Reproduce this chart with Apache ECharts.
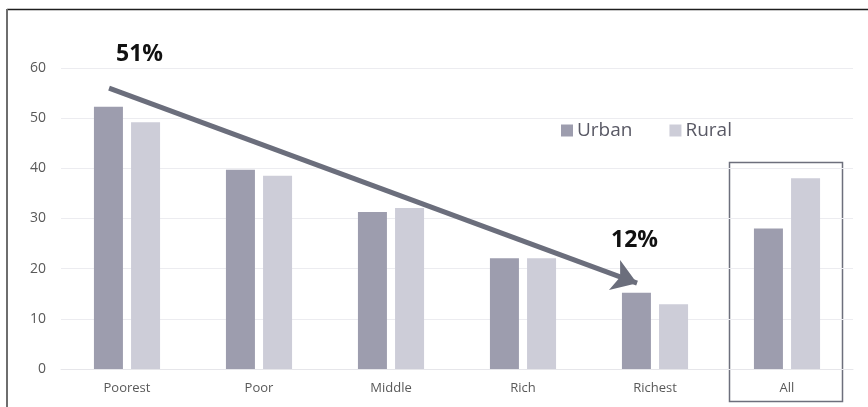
<!DOCTYPE html>
<html>
<head>
<meta charset="utf-8">
<script src="https://cdn.jsdelivr.net/npm/echarts@6/dist/echarts.min.js"></script>
<style>
  html, body { margin: 0; padding: 0; background: #ffffff; }
  #chart { width: 868px; height: 407px; }
</style>
</head>
<body>
<div id="chart"></div>
<script>
// Wealth quintiles and the overall figure
const categories = ['Poorest', 'Poor', 'Middle', 'Rich', 'Richest', 'All'];
const urbanValues = [52.3, 39.7, 31.3, 22.1, 15.2, 28.0];
const ruralValues = [49.2, 38.5, 32.1, 22.1, 12.9, 38.0];
const yTicks = { min: 0, max: 60, interval: 10 };

// Trend arrow, in (category position, value) space: 0.5 is the centre of the first group
const trendStart = [0.364, 56.0];
const trendEnd = [4.364, 17.1];
const trendLabels = ['51%', '12%'];

const chart = echarts.init(document.getElementById('chart'), null, { renderer: 'canvas' });

const gridLeft = 61, gridRight = 15, gridTop = 68, gridBottom = 38;

chart.setOption({
  backgroundColor: '#ffffff',
  animation: false,
  textStyle: { fontFamily: 'Open Sans, Noto Sans, sans-serif' },
  grid: { left: gridLeft, right: gridRight, top: gridTop, bottom: gridBottom, containLabel: false },
  legend: {
    data: ['Urban', 'Rural'],
    left: 556, top: 116,
    itemWidth: 12, itemHeight: 12, itemGap: 37,
    icon: 'rect',
    textStyle: { fontSize: 19, color: '#595965', fontFamily: 'Open Sans, sans-serif', padding: [0, 0, 0, -1] }
  },
  xAxis: [{
    type: 'category',
    data: categories,
    axisLine: { lineStyle: { color: '#e6e6ea', width: 1 } },
    axisTick: { show: false },
    axisLabel: { color: '#595959', fontSize: 13, margin: 13 }
  }, {
    type: 'value',
    min: 0, max: categories.length,
    show: false
  }],
  yAxis: {
    type: 'value',
    min: yTicks.min, max: yTicks.max, interval: yTicks.interval,
    axisLine: { show: false },
    axisTick: { show: false },
    axisLabel: { color: '#595959', fontSize: 14, margin: 15 },
    splitLine: { lineStyle: { color: '#ececf0', width: 1 } }
  },
  series: [{
    name: 'Urban', type: 'bar', data: urbanValues,
    barWidth: 29, barGap: '28%',
    itemStyle: { color: '#9d9dae' }
  }, {
    name: 'Rural', type: 'bar', data: ruralValues,
    barWidth: 29,
    itemStyle: { color: '#cdcdd8' }
  }, {
    name: 'trend', type: 'line', xAxisIndex: 1,
    data: [], silent: true,
    markLine: {
      silent: true,
      symbol: ['none', 'arrow'],
      symbolSize: 24,
      label: { show: false },
      lineStyle: { color: '#6b6e7c', width: 5, type: 'solid' },
      data: [[{ coord: trendStart }, { coord: trendEnd }]]
    }
  }],
  graphic: [
    // outer frame (top and left edges)
    { type: 'line', shape: { x1: 7, y1: 9.5, x2: 868, y2: 9.5 }, style: { stroke: '#1e1e1e', lineWidth: 1.5 } },
    { type: 'line', shape: { x1: 7, y1: 9, x2: 7, y2: 407 }, style: { stroke: '#6e6e6e', lineWidth: 2 } },
    // highlight box around the overall group
    { type: 'rect', shape: { x: 729.5, y: 162.5, width: 113, height: 239 },
      style: { fill: 'none', stroke: '#6d6f7c', lineWidth: 1.5 } },
    { type: 'text', left: 116, top: 43,
      style: { text: trendLabels[0], font: 'bold 23px "Open Sans", sans-serif', fill: '#111111' } },
    { type: 'text', left: 611, top: 229,
      style: { text: trendLabels[1], font: 'bold 23px "Open Sans", sans-serif', fill: '#111111' } }
  ]
});
</script>
</body>
</html>
